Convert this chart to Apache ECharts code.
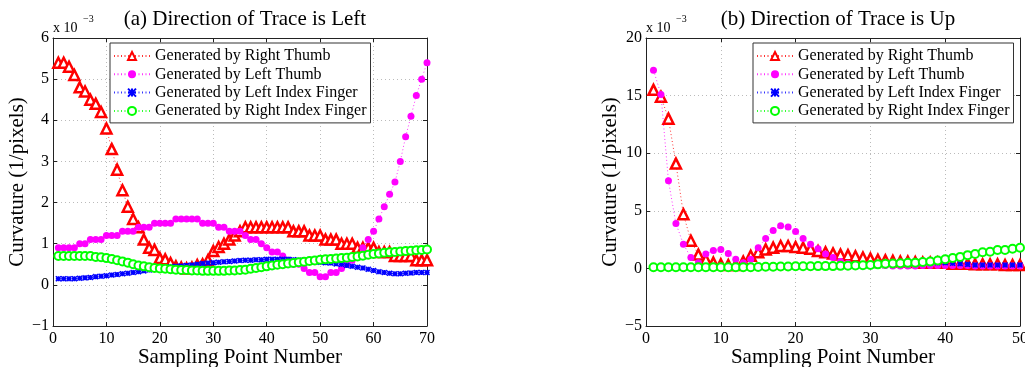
<!DOCTYPE html>
<html>
<head>
<meta charset="utf-8">
<script src="https://cdn.jsdelivr.net/npm/echarts@6/dist/echarts.min.js"></script>
<style>
  html, body { margin: 0; padding: 0; background: #fff; }
  #main { width: 1025px; height: 367px; }
</style>
</head>
<body>
<div id="main"></div>
<script>
// (a) Direction of Trace is Left, sampling points 1..70, curvature x 10^-3
const rightThumbA = [5.4,5.4,5.3,5.1,4.8,4.7,4.5,4.4,4.2,3.8, 3.3,2.8,2.3,1.9,1.6,1.4,1.1,0.9,0.85,0.65,
  0.62,0.53,0.45,0.42,0.4,0.42,0.48,0.5,0.6,0.82, 0.92,1.0,1.1,1.2,1.3,1.4,1.4,1.4,1.4,1.4,
  1.4,1.4,1.4,1.4,1.3,1.3,1.3,1.2,1.2,1.2, 1.1,1.1,1.1,1.0,1.0,1.0,0.9,0.9,0.9,0.9,
  0.8,0.8,0.8,0.7,0.7,0.7,0.7,0.6,0.6,0.6];
const leftThumbA = [0.9,0.9,0.9,0.9,1.0,1.0,1.1,1.1,1.1,1.2, 1.2,1.2,1.3,1.3,1.3,1.4,1.4,1.4,1.5,1.5,
  1.5,1.5,1.6,1.6,1.6,1.6,1.6,1.5,1.5,1.5, 1.4,1.4,1.3,1.3,1.3,1.2,1.1,1.1,1.0,0.9,
  0.8,0.8,0.7,0.6,0.5,0.5,0.4,0.3,0.3,0.2, 0.2,0.3,0.3,0.4,0.5,0.6,0.7,0.9,1.1,1.3,
  1.6,1.9,2.2,2.5,3.0,3.6,4.1,4.6,5.0,5.4];
const leftIndexA = [0.15,0.15,0.15,0.15,0.16,0.17,0.18,0.2,0.21,0.22, 0.24,0.25,0.27,0.28,0.3,0.32,0.34,0.36,0.38,0.4,
  0.42,0.44,0.45,0.46,0.47,0.48,0.5,0.52,0.53,0.54, 0.55,0.56,0.57,0.58,0.59,0.6,0.6,0.61,0.61,0.62,
  0.62,0.62,0.62,0.62,0.61,0.6,0.6,0.59,0.57,0.55, 0.54,0.53,0.51,0.5,0.47,0.45,0.43,0.41,0.38,0.35,
  0.32,0.3,0.28,0.27,0.27,0.28,0.29,0.3,0.3,0.3];
const rightIndexA = [0.7,0.7,0.7,0.7,0.7,0.7,0.7,0.68,0.67,0.65, 0.63,0.6,0.57,0.54,0.5,0.47,0.45,0.43,0.41,0.4,
  0.39,0.38,0.37,0.36,0.36,0.35,0.35,0.34,0.34,0.34, 0.34,0.34,0.35,0.35,0.36,0.37,0.39,0.41,0.43,0.45,
  0.47,0.49,0.5,0.52,0.53,0.55,0.56,0.58,0.59,0.61, 0.62,0.63,0.64,0.65,0.66,0.68,0.69,0.71,0.73,0.75,
  0.76,0.78,0.79,0.8,0.81,0.82,0.83,0.84,0.85,0.86];

// (b) Direction of Trace is Up, sampling points 1..50
const rightThumbB = [15.5,14.9,13.0,9.1,4.7,2.4,1.2,0.75,0.5,0.35, 0.3,0.3,0.6,1.1,1.4,1.65,1.8,1.95,1.95,1.85,
  1.8,1.7,1.5,1.4,1.3,1.2,1.15,1.05,0.95,0.85, 0.75,0.7,0.65,0.6,0.6,0.55,0.5,0.5,0.5,0.5,
  0.4,0.4,0.4,0.35,0.35,0.35,0.35,0.3,0.3,0.3];
const leftThumbB = [17.2,15.1,7.6,3.9,2.1,0.95,0.5,1.25,1.55,1.65, 1.3,0.8,0.5,0.8,1.8,2.6,3.3,3.7,3.6,3.2,
  2.6,2.1,1.7,1.25,0.95,0.6,0.45,0.35,0.3,0.25, 0.25,0.25,0.2,0.2,0.2,0.2,0.25,0.25,0.25,0.25,
  0.25,0.25,0.25,0.2,0.2,0.2,0.2,0.2,0.2,0.2];
const leftIndexB = [0.1,0.1,0.1,0.1,0.1,0.1,0.1,0.1,0.1,0.1, 0.1,0.1,0.1,0.1,0.12,0.15,0.15,0.16,0.17,0.18,
  0.18,0.19,0.2,0.2,0.2,0.22,0.24,0.25,0.26,0.28, 0.3,0.32,0.35,0.38,0.4,0.42,0.45,0.48,0.5,0.5,
  0.45,0.4,0.35,0.3,0.3,0.3,0.3,0.3,0.3,0.3];
const rightIndexB = [0.1,0.1,0.1,0.1,0.1,0.1,0.1,0.1,0.1,0.1, 0.1,0.1,0.1,0.1,0.12,0.15,0.15,0.16,0.17,0.18,
  0.18,0.19,0.2,0.2,0.2,0.22,0.24,0.26,0.28,0.3, 0.35,0.4,0.42,0.45,0.48,0.5,0.55,0.6,0.68,0.8,
  0.9,1.0,1.15,1.25,1.4,1.45,1.6,1.6,1.7,1.8];

const seriesNames = ['Generated by Right Thumb', 'Generated by Left Thumb',
  'Generated by Left Index Finger', 'Generated by Right Index Finger'];

const FONT = 'Liberation Serif';
const toPairs = arr => arr.map((v, i) => [i + 1, v]);
const minusFmt = v => (v < 0 ? '\u2212' + (-v) : String(v));

const styles = [
  { symbol: 'triangle', symbolSize: 10, color: '#ff0000',
    itemStyle: { color: '#ffffff', borderColor: '#ff0000', borderWidth: 2.5 } },
  { symbol: 'circle', symbolSize: 7, color: '#ff00ff',
    itemStyle: { color: '#ff00ff', borderColor: '#ff00ff', borderWidth: 0 } },
  { symbol: 'path://M0,0L10,10M10,0L0,10M5,0L5,10M0,5L10,5', symbolSize: 5, color: '#0000ff',
    itemStyle: { color: '#0000ff', borderColor: '#0000ff', borderWidth: 1.5 } },
  { symbol: 'circle', symbolSize: 8, color: '#00ff00',
    itemStyle: { color: '#ffffff', borderColor: '#00ff00', borderWidth: 2 } }
];

function makeSeries(dataList, gridIdx) {
  return dataList.map((d, k) => ({
    name: seriesNames[k],
    type: 'line',
    xAxisIndex: gridIdx * 2,
    yAxisIndex: gridIdx * 2,
    data: toPairs(d),
    symbol: styles[k].symbol,
    symbolSize: styles[k].symbolSize,
    showSymbol: true,
    showAllSymbol: true,
    itemStyle: styles[k].itemStyle,
    lineStyle: { color: styles[k].color, type: [1, 2.5], width: 1, opacity: 0.8 },
    animation: false,
    z: 2 + k
  }));
}

function xAxes(gridIdx, max) {
  const base = {
    gridIndex: gridIdx, type: 'value', min: 0, max: max, interval: 10,
    axisLine: { show: true, onZero: false, lineStyle: { color: '#222', width: 1 } },
    axisTick: { show: true, inside: true, length: 4, lineStyle: { color: '#222' } },
    splitLine: { show: false }
  };
  return [
    Object.assign({}, base, {
      position: 'bottom',
      axisLabel: { color: '#000', fontFamily: FONT, fontSize: 16, margin: 5 },
      splitLine: { show: true, lineStyle: { color: '#bbb', type: [1, 3], width: 1 } },
      name: 'Sampling Point Number', nameLocation: 'middle', nameGap: 21, nameMoveOverlap: false,
      nameTextStyle: { color: '#000', fontFamily: FONT, fontSize: 21 }
    }),
    Object.assign({}, base, { position: 'top', axisLabel: { show: false } })
  ];
}

function yAxes(gridIdx, min, max, interval) {
  const base = {
    gridIndex: gridIdx, type: 'value', min: min, max: max, interval: interval,
    axisLine: { show: true, onZero: false, lineStyle: { color: '#222', width: 1 } },
    axisTick: { show: true, inside: true, length: 4, lineStyle: { color: '#222' } },
    splitLine: { show: false }
  };
  return [
    Object.assign({}, base, {
      position: 'left',
      axisLabel: { color: '#000', fontFamily: FONT, fontSize: 16, margin: 4, formatter: minusFmt },
      splitLine: { show: true, lineStyle: { color: '#bbb', type: [1, 3], width: 1 } },
      name: 'Curvature (1/pixels)', nameLocation: 'middle', nameRotate: 90, nameGap: 25,
      nameTextStyle: { color: '#000', fontFamily: FONT, fontSize: 21 }
    }),
    Object.assign({}, base, { position: 'right', axisLabel: { show: false } })
  ];
}

function legendAt(left) {
  return {
    orient: 'vertical', left: left, top: 43,
    data: seriesNames,
    itemWidth: 36, itemHeight: 10, itemGap: 2.3,
    padding: [5, 4, 4, 3],
    backgroundColor: '#ffffff',
    borderColor: '#333', borderWidth: 1,
    selectedMode: false,
    textStyle: { color: '#000', fontFamily: FONT, fontSize: 16, lineHeight: 16 }
  };
}

const chart = echarts.init(document.getElementById('main'), null, { renderer: 'canvas' });
chart.setOption({
  backgroundColor: '#ffffff',
  animation: false,
  title: [
    { text: '(a) Direction of Trace is Left', left: 240, top: 4, textAlign: 'center',
      textStyle: { fontFamily: FONT, fontWeight: 'normal', fontSize: 21, color: '#000' } },
    { text: '(b) Direction of Trace is Up', left: 833, top: 4, textAlign: 'center',
      textStyle: { fontFamily: FONT, fontWeight: 'normal', fontSize: 21, color: '#000' } }
  ],
  graphic: [
    { type: 'text', left: 53, top: 21, style: { text: 'x 10', fontSize: 14, fontFamily: FONT, fill: '#000' } },
    { type: 'text', left: 83, top: 14, style: { text: '\u22123', fontSize: 10, fontFamily: FONT, fill: '#000' } },
    { type: 'text', left: 646, top: 21, style: { text: 'x 10', fontSize: 14, fontFamily: FONT, fill: '#000' } },
    { type: 'text', left: 676, top: 14, style: { text: '\u22123', fontSize: 10, fontFamily: FONT, fill: '#000' } }
  ],
  legend: [legendAt(110), legendAt(753)],
  grid: [
    { left: 53, right: 598, top: 38, bottom: 41, containLabel: false, outerBoundsMode: 'none' },
    { left: 646, right: 5, top: 38, bottom: 41, containLabel: false, outerBoundsMode: 'none' }
  ],
  xAxis: [...xAxes(0, 70), ...xAxes(1, 50)],
  yAxis: [...yAxes(0, -1, 6, 1), ...yAxes(1, -5, 20, 5)],
  series: [
    ...makeSeries([rightThumbA, leftThumbA, leftIndexA, rightIndexA], 0),
    ...makeSeries([rightThumbB, leftThumbB, leftIndexB, rightIndexB], 1)
  ]
});
</script>
</body>
</html>
